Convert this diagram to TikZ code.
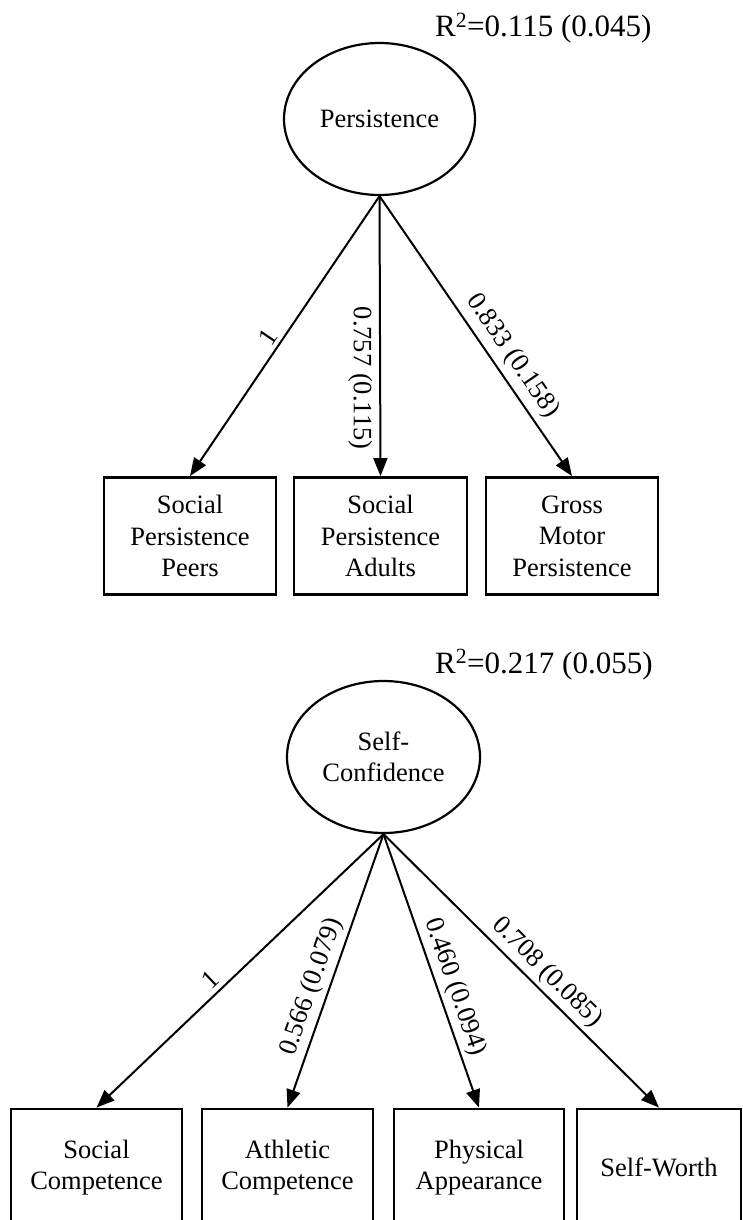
\documentclass[tikz,border=0pt]{standalone}
\usepackage{fontspec}
\setmainfont{Liberation Serif}
\usetikzlibrary{shapes.geometric,arrows.meta}

\tikzset{
  latent/.style={draw, ellipse, line width=2.2pt, minimum width=191pt,
    minimum height=152pt, inner sep=0pt, align=center,
    font=\fontsize{26.5}{31.5}\selectfont},
  manifest/.style={draw, rectangle, line width=2.8pt, minimum width=172pt,
    minimum height=117pt, inner sep=0pt, align=center,
    font=\fontsize{26.5}{31.5}\selectfont},
  loading/.style={line width=2pt, -{Triangle[length=18pt,width=14pt]}},
  lbl/.style={font=\fontsize{26.5}{31.5}\selectfont, inner sep=4pt},
  rsq/.style={font=\fontsize{31}{37}\selectfont, anchor=base west, inner sep=0pt}
}

\begin{document}
\begin{tikzpicture}[x=1pt, y=-1pt]
\useasboundingbox (0,0) rectangle (742,1220);
\clip (0,0) rectangle (742,1220);

% ---------- Persistence ----------
\node[rsq] (r1) at (435,37) {R\textsuperscript{2}=0.115 (0.045)};
\node[latent] (pers) at (379.5,119) {Persistence};

\node[manifest] (spp) at (190,536) {Social\\Persistence\\Peers};
\node[manifest, minimum width=173pt] (spa) at (380.5,536) {Social\\Persistence\\Adults};
\node[manifest] (gmp) at (572,536) {Gross\\Motor\\Persistence};

\draw[loading] (pers.south) -- node[lbl, sloped, above, pos=0.53] {1} (spp.north);
\draw[loading] (pers.south) -- node[lbl, rotate=-90, anchor=north, pos=0.65, inner sep=7pt] {0.757 (0.115)} (spa.north);
\draw[loading] (pers.south) -- node[lbl, sloped, above, pos=0.61, inner sep=6pt] {0.833 (0.158)} (gmp.north);

% ---------- Self-Confidence ----------
\node[rsq] (r2) at (435,673) {R\textsuperscript{2}=0.217 (0.055)};
\node[latent, minimum width=193pt] (conf) at (383.5,757) {Self-\\Confidence};

\node[manifest, minimum width=171pt] (sc) at (96.5,1167.5) {Social\\Competence};
\node[manifest, minimum width=171pt] (ac) at (287.5,1167.5) {Athletic\\Competence};
\node[manifest, minimum width=170pt] (pa) at (479,1167.5) {Physical\\Appearance};
\node[manifest, minimum width=164pt] (sw) at (659,1167.5) {Self-Worth};

\draw[loading] (conf.south) -- node[lbl, sloped, above, pos=0.57] {1} (sc.north);
\draw[loading] (conf.south) -- node[lbl, sloped, above, pos=0.58] {0.566 (0.079)} (ac.north);
\draw[loading] (conf.south) -- node[lbl, sloped, above, pos=0.58] {0.460 (0.094)} (pa.north);
\draw[loading] (conf.south) -- node[lbl, sloped, above, pos=0.55] {0.708 (0.085)} (sw.north);
\end{tikzpicture}
\end{document}
